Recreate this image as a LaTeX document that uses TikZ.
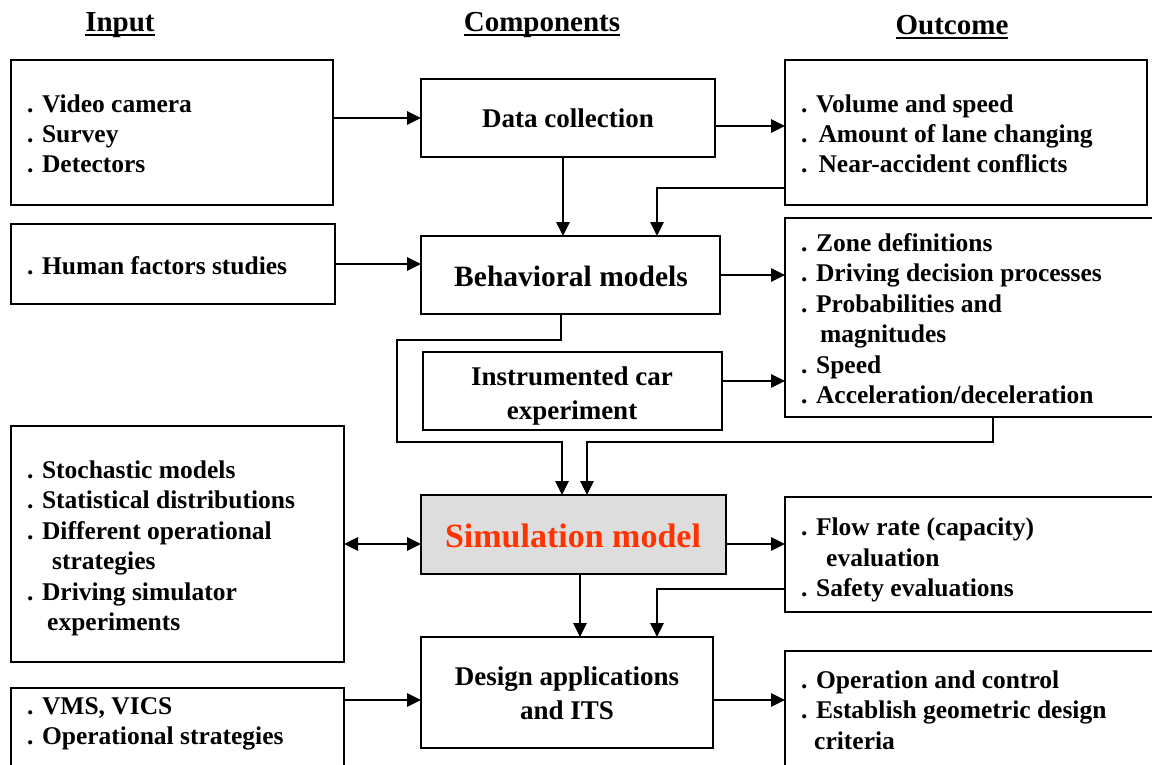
\documentclass[tikz,border=0pt]{standalone}
\usepackage{fontspec}
\setmainfont{Liberation Serif}
\usetikzlibrary{arrows.meta}
\definecolor{simfill}{HTML}{DDDDDD}
\definecolor{simtext}{HTML}{FF3300}
% underlined column heading
\newcommand\ulhead[1]{\setbox0=\hbox{#1}\rlap{\copy0}\rule[-4pt]{\wd0}{1.8pt}}
\newcommand\ind[1]{\hspace*{#1pt}}
\begin{document}
\begin{tikzpicture}[x=1pt,y=-1pt,
  box/.style={draw, line width=1.8pt, inner sep=0pt, outer sep=0pt, anchor=north west},
  % multi-line texts are placed by the baseline of their last line
  txt/.style={inner sep=0pt, anchor=base west, align=left,
    font=\fontsize{25.5}{30.5}\selectfont\bfseries},
  comp/.style={inner sep=0pt, anchor=base, align=center,
    font=\fontsize{27}{33.5}\selectfont\bfseries},
  hdr/.style={inner sep=0pt, anchor=base, font=\fontsize{29}{33}\selectfont\bfseries},
  conn/.style={line width=2.8pt},
  arr/.style={conn, -{Triangle[length=14pt,width=13pt]}},
  dbl/.style={conn, {Triangle[length=14pt,width=13pt]}-{Triangle[length=14pt,width=13pt]}}]
\useasboundingbox (0,0) rectangle (1152,765);
\clip (0,0) rectangle (1152,765);

% column headings
\node[hdr] (hIn)  at (120,32) {\ulhead{Input}};
\node[hdr] (hCmp) at (542,32) {\ulhead{Components}};
\node[hdr] (hOut) at (952,35) {\ulhead{Outcome}};

% input boxes
\node[box, minimum width=322, minimum height=145] (in1) at (11,60) {};
\node[txt] (in1t) at (27,173) {. Video camera\\. Survey\\. Detectors};
\node[box, minimum width=324, minimum height=80] (in2) at (11,224) {};
\node[txt] (in2t) at (27,274) {. Human factors studies};
\node[box, minimum width=333, minimum height=236] (in3) at (11,426) {};
\node[txt] (in3t) at (27,630.5) {. Stochastic models\\. Statistical distributions\\. Different operational\\\ind{25}strategies\\. Driving simulator\\\ind{20}experiments};
\node[box, minimum width=333, minimum height=112] (in4) at (11,688) {};
\node[txt] (in4t) at (27,744.5) {. VMS, VICS\\. Operational strategies};

% component boxes
\node[box, minimum width=294, minimum height=78] (dc) at (421,79) {};
\node[comp] (dct) at (568,128) {Data collection};
\node[box, minimum width=299, minimum height=78] (beh) at (421,236) {};
\node[comp, font=\fontsize{29.5}{33}\selectfont\bfseries] (beht) at (571,286) {Behavioral models};
\node[box, minimum width=299, minimum height=78] (instr) at (423,352) {};
\node[comp] (instrt) at (572,419) {Instrumented car\\experiment};
\node[box, fill=simfill, minimum width=305, minimum height=79] (sim) at (421,495) {};
\node[comp, text=simtext, font=\fontsize{34}{38}\selectfont\bfseries] (simt) at (573,547) {Simulation model};
\node[box, minimum width=292, minimum height=111] (des) at (421,637) {};
\node[comp] (dest) at (567,719) {Design applications\\and ITS};

% outcome boxes
\node[box, minimum width=362, minimum height=145] (out1) at (785,60) {};
\node[txt] (out1t) at (801,173) {. Volume and speed\\.\ind{11}Amount of lane changing\\.\ind{11}Near-accident conflicts};
\node[box, minimum width=380, minimum height=199] (out2) at (785,218) {};
\node[txt] (out2t) at (801,403.5) {. Zone definitions\\. Driving decision processes\\. Probabilities and\\\ind{19}magnitudes\\. Speed\\. Acceleration/deceleration};
\node[box, minimum width=380, minimum height=115] (out3) at (785,497) {};
\node[txt] (out3t) at (801,596.5) {. Flow rate (capacity)\\\ind{25}evaluation\\. Safety evaluations};
\node[box, minimum width=380, minimum height=150] (out4) at (785,651) {};
\node[txt] (out4t) at (801,749) {. Operation and control\\. Establish geometric design\\\ind{13}criteria};

% connector ports
\coordinate (dcOut)   at ([xshift=-5pt]dc.south);
\coordinate (dcR)     at ([yshift=-8pt]dc.east);
\coordinate (out1Out) at ([yshift=-55.5pt]out1.west);
\coordinate (behIn2)  at ([xshift=86.5pt]beh.north);
\coordinate (behOut)  at ([xshift=-9.5pt]beh.south);
\coordinate (insR)    at ([yshift=10pt]instr.east);
\coordinate (out2Out) at ([xshift=18pt]out2.south);
\coordinate (simIn1)  at ([xshift=-11.5pt]sim.north);
\coordinate (simIn2)  at ([xshift=13.5pt]sim.north);
\coordinate (simR)    at (sim.east |- in3.east);
\coordinate (simOut)  at ([xshift=6.5pt]sim.south);
\coordinate (out3Out) at ([yshift=-34.5pt]out3.west);
\coordinate (desIn2)  at ([xshift=90pt]des.north);
\coordinate (desL)    at ([yshift=-7.5pt]des.west);
\coordinate (desR)    at ([yshift=-7.5pt]des.east);

% connectors
\draw[arr] (in1.east |- dc.west) -- (dc.west);
\draw[arr] (dcR) -- (dcR -| out1.west);
\draw[arr] (dcOut) -- (dcOut |- beh.north);
\draw[arr] (out1Out) -| (behIn2);
\draw[arr] (in2.east) -- (in2.east -| beh.west);
\draw[arr] (beh.east) -- (beh.east -| out2.west);
\draw[arr] (insR) -- (insR -| out2.west);
\draw[arr] (behOut) -- ++(0,26) -- ++(-164,0) -- ++(0,102) -| (simIn1);
\draw[arr] (out2Out) -- ++(0,25) -| (simIn2);
\draw[dbl] (in3.east) -- (in3.east -| sim.west);
\draw[arr] (simR) -- (simR -| out3.west);
\draw[arr] (simOut) -- (simOut |- des.north);
\draw[arr] (out3Out) -| (desIn2);
\draw[arr] (desL -| in4.east) -- (desL);
\draw[arr] (desR) -- (desR -| out4.west);
\end{tikzpicture}
\end{document}
